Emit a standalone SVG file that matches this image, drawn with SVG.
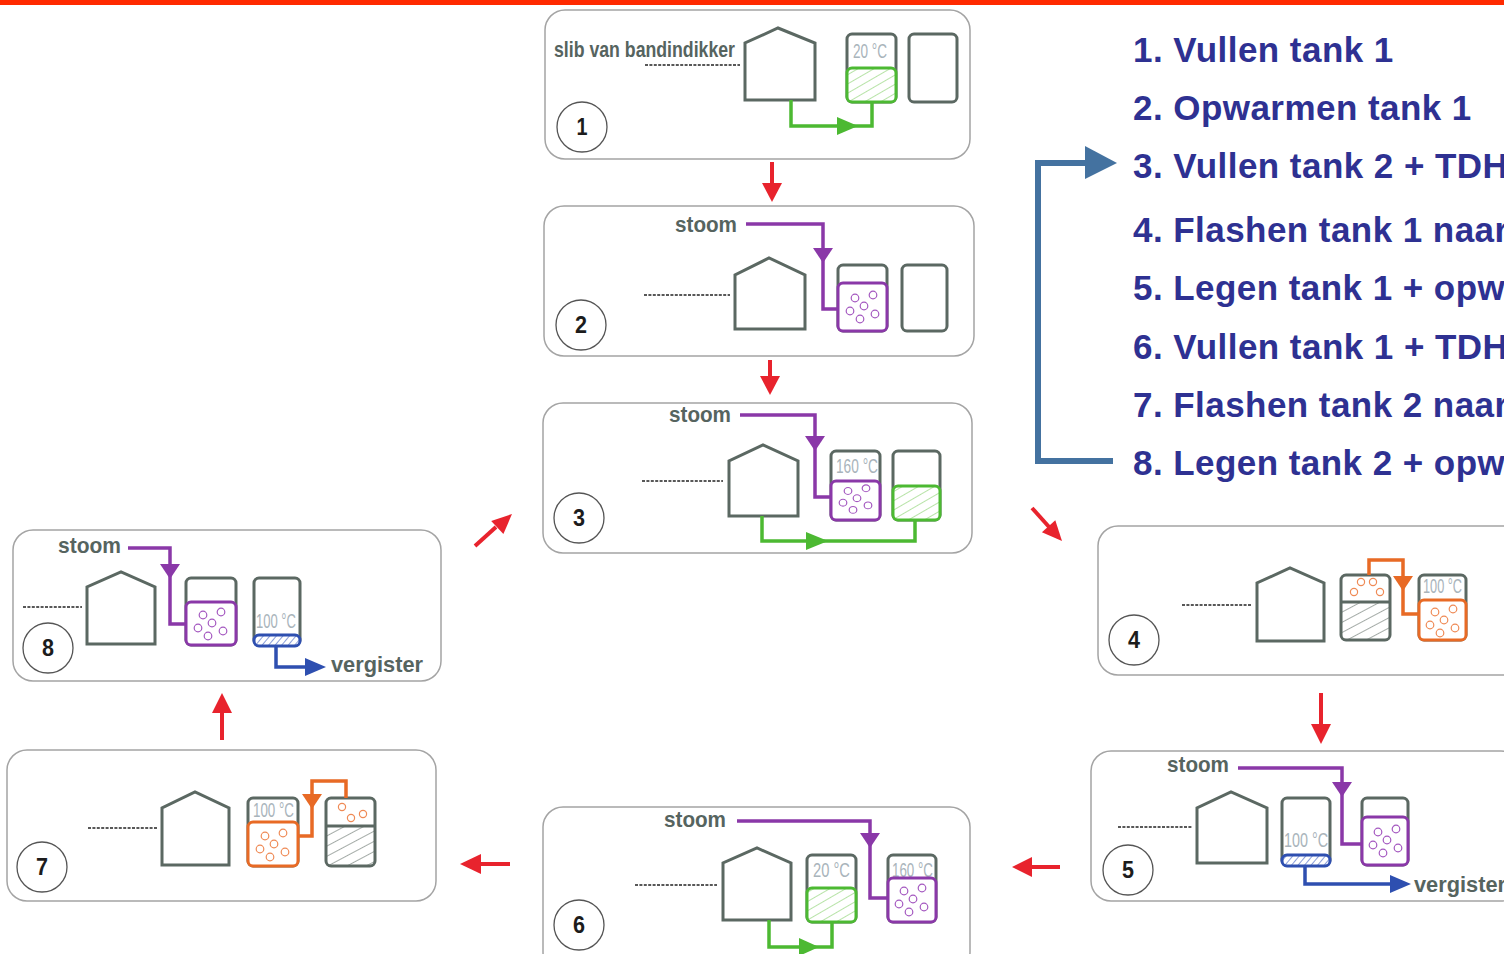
<svg xmlns="http://www.w3.org/2000/svg" xmlns:xlink="http://www.w3.org/1999/xlink" width="1504" height="954" viewBox="0 0 1504 954">
  <defs>
    <style>
      .panel { fill: #ffffff; stroke: #a4a4a4; stroke-width: 1.5; }
      .house { fill: none; stroke: #5b6862; stroke-width: 3; stroke-linejoin: miter; }
      .tank { fill: none; stroke: #5b6862; stroke-width: 3; }
      .dash { stroke: #222222; stroke-width: 1.6; stroke-dasharray: 3 1.4; fill: none; }
      .lbl { font-family: "Liberation Sans", Arial, sans-serif; font-weight: bold; font-size: 22px; fill: #56645f; }
      .temp { font-family: "Liberation Sans", Arial, sans-serif; font-size: 20px; fill: #a9b4bb; }
      .ring { fill: #ffffff; stroke: #555555; stroke-width: 1.3; }
      .num { font-family: "Liberation Sans", Arial, sans-serif; font-weight: bold; font-size: 24px; fill: #1c1c1c; text-anchor: middle; }
      .pipe { fill: none; stroke-width: 3.5; stroke-linejoin: miter; }
      .pur { stroke: #8a38a8; }
      .grn { stroke: #4cb932; }
      .org { stroke: #e86a25; }
      .blu { stroke: #2e4fb0; }
      .hpur { fill: #8a38a8; }
      .hgrn { fill: #4cb932; }
      .horg { fill: #e86a25; }
      .hblu { fill: #2e4fb0; }
      .zone { stroke-width: 3; }
      .step { font-family: "Liberation Sans", Arial, sans-serif; font-weight: bold; font-size: 35px; letter-spacing: 0.45px; fill: #2e3192; }
      .red { stroke: #e8232d; stroke-width: 4; fill: none; }
      .redh { fill: #e8232d; }
    </style>
    <pattern id="hatchG" width="8" height="8" patternUnits="userSpaceOnUse" patternTransform="rotate(60)">
      <rect width="8" height="8" fill="#ffffff"/>
      <line x1="0" y1="0" x2="0" y2="8" stroke="#7ccd5e" stroke-width="1.1"/>
    </pattern>
    <pattern id="hatchK" width="9" height="9" patternUnits="userSpaceOnUse" patternTransform="rotate(62)">
      <rect width="9" height="9" fill="#ffffff"/>
      <line x1="0" y1="0" x2="0" y2="9" stroke="#66726c" stroke-width="1.2"/>
    </pattern>
    <pattern id="hatchB" width="5" height="5" patternUnits="userSpaceOnUse" patternTransform="rotate(40)">
      <rect width="5" height="5" fill="#ffffff"/>
      <line x1="0" y1="0" x2="0" y2="5" stroke="#3c5cc0" stroke-width="1.2"/>
    </pattern>
    <!-- six loose bubbles in a 48x40 box; colour comes from the <use> -->
    <g id="bub" fill="none" stroke-width="1.2">
      <circle cx="16" cy="10" r="3.8"/>
      <circle cx="34" cy="7" r="3.8"/>
      <circle cx="25" cy="18" r="3.8"/>
      <circle cx="11" cy="23" r="3.8"/>
      <circle cx="36" cy="26" r="3.8"/>
      <circle cx="21" cy="31" r="3.8"/>
    </g>
  </defs>

  <rect width="1504" height="954" fill="#ffffff"/>
  <rect x="0" y="0" width="1504" height="5" fill="#ff2a00"/>

  <!-- Step 1: filling tank 1 -->
  <g id="step1">
    <rect class="panel" x="545" y="10" width="425" height="149" rx="20"/>
    <text class="lbl" x="554" y="57" textLength="181" lengthAdjust="spacingAndGlyphs">slib van bandindikker</text>
    <line class="dash" x1="645" y1="65" x2="740" y2="65"/>
    <polygon class="house" points="745,100 745,43 778,28 815,43 815,100"/>
    <rect class="tank" x="847" y="34" width="49" height="68" rx="5"/>
    <text class="temp" x="853" y="58" textLength="34" lengthAdjust="spacingAndGlyphs">20 °C</text>
    <rect class="zone grn" x="847" y="68" width="49" height="34" rx="5" fill="url(#hatchG)"/>
    <rect class="tank" x="909" y="34" width="48" height="68" rx="5"/>
    <path class="pipe grn" d="M791,100 V126 H872 V102"/>
    <polygon class="hgrn" points="837,117 858,126 837,135"/>
    <circle class="ring" cx="582" cy="127" r="25"/>
    <text class="num" x="582" y="135" textLength="11" lengthAdjust="spacingAndGlyphs">1</text>
  </g>

  <!-- Step 2: heating tank 1 -->
  <g id="step2">
    <rect class="panel" x="544" y="206" width="430" height="150" rx="20"/>
    <text class="lbl" x="675" y="232" textLength="62" lengthAdjust="spacingAndGlyphs">stoom</text>
    <line class="dash" x1="644" y1="295" x2="730" y2="295"/>
    <polygon class="house" points="735,329 735,275 769,258 805,275 805,329"/>
    <rect class="tank" x="838" y="265" width="49" height="66" rx="5"/>
    <rect class="zone pur" x="838" y="283" width="49" height="48" rx="5" fill="#ffffff"/>
    <use xlink:href="#bub" transform="translate(839,288)" stroke="#a458c0"/>
    <rect class="tank" x="902" y="265" width="45" height="66" rx="5"/>
    <path class="pipe pur" d="M746,224 H823 V309 H838"/>
    <polygon class="hpur" points="813,248 833,248 823,263"/>
    <circle class="ring" cx="581" cy="325" r="25"/>
    <text class="num" x="581" y="333" textLength="12" lengthAdjust="spacingAndGlyphs">2</text>
  </g>

  <!-- Step 3: filling tank 2 -->
  <g id="step3">
    <rect class="panel" x="543" y="403" width="429" height="150" rx="20"/>
    <text class="lbl" x="669" y="422" textLength="62" lengthAdjust="spacingAndGlyphs">stoom</text>
    <line class="dash" x1="642" y1="481" x2="723" y2="481"/>
    <polygon class="house" points="729,516 729,461 763,445 798,461 798,516"/>
    <rect class="tank" x="831" y="451" width="49" height="69" rx="5"/>
    <text class="temp" x="836" y="473" textLength="42" lengthAdjust="spacingAndGlyphs">160 °C</text>
    <rect class="zone pur" x="831" y="481" width="49" height="39" rx="5" fill="#ffffff"/>
    <use xlink:href="#bub" transform="translate(832,482) scale(1,0.9)" stroke="#a458c0"/>
    <rect class="tank" x="893" y="451" width="47" height="69" rx="5"/>
    <rect class="zone grn" x="893" y="486" width="47" height="34" rx="5" fill="url(#hatchG)"/>
    <path class="pipe pur" d="M740,415 H815 V497 H831"/>
    <polygon class="hpur" points="805,436 825,436 815,451"/>
    <path class="pipe grn" d="M762,516 V541 H915 V520"/>
    <polygon class="hgrn" points="806,532 828,541 806,550"/>
    <circle class="ring" cx="579" cy="518" r="25"/>
    <text class="num" x="579" y="526" textLength="12" lengthAdjust="spacingAndGlyphs">3</text>
  </g>

  <!-- Step 4: flashing tank 1 into tank 2 -->
  <g id="step4">
    <rect class="panel" x="1098" y="526" width="430" height="149" rx="20"/>
    <line class="dash" x1="1182" y1="605" x2="1252" y2="605"/>
    <polygon class="house" points="1257,641 1257,583 1290,568 1324,583 1324,641"/>
    <rect x="1341" y="602" width="49" height="38" fill="url(#hatchK)"/>
    <rect class="tank" x="1341" y="575" width="49" height="65" rx="5"/>
    <line x1="1341" y1="602" x2="1390" y2="602" stroke="#5b6862" stroke-width="3"/>
    <g fill="none" stroke="#ef8a55" stroke-width="1.2">
      <circle cx="1361" cy="582" r="3.6"/>
      <circle cx="1373" cy="582" r="3.6"/>
      <circle cx="1354" cy="592" r="3.6"/>
      <circle cx="1380" cy="592" r="3.6"/>
    </g>
    <rect class="tank" x="1419" y="575" width="47" height="65" rx="5"/>
    <text class="temp" x="1423" y="593" textLength="39" lengthAdjust="spacingAndGlyphs">100 °C</text>
    <rect class="zone org" x="1419" y="600" width="47" height="40" rx="5" fill="#ffffff"/>
    <use xlink:href="#bub" transform="translate(1419,602)" stroke="#ef8a55"/>
    <path class="pipe org" d="M1369,575 V560 H1403 V614 H1419"/>
    <polygon class="horg" points="1393,576 1413,576 1403,591"/>
    <circle class="ring" cx="1134" cy="640" r="25"/>
    <text class="num" x="1134" y="648" textLength="12" lengthAdjust="spacingAndGlyphs">4</text>
  </g>

  <!-- Step 5: emptying tank 1 to the digester, heating tank 2 -->
  <g id="step5">
    <rect class="panel" x="1091" y="751" width="430" height="150" rx="20"/>
    <text class="lbl" x="1167" y="772" textLength="62" lengthAdjust="spacingAndGlyphs">stoom</text>
    <line class="dash" x1="1118" y1="827" x2="1192" y2="827"/>
    <polygon class="house" points="1197,863 1197,808 1231,792 1267,808 1267,863"/>
    <rect class="tank" x="1282" y="798" width="48" height="67" rx="5"/>
    <text class="temp" x="1284" y="847" textLength="44" lengthAdjust="spacingAndGlyphs">100 °C</text>
    <rect class="zone blu" x="1282" y="855" width="48" height="11" rx="5" fill="url(#hatchB)"/>
    <rect class="tank" x="1362" y="798" width="46" height="67" rx="5"/>
    <rect class="zone pur" x="1362" y="817" width="46" height="48" rx="5" fill="#ffffff"/>
    <use xlink:href="#bub" transform="translate(1362,822)" stroke="#a458c0"/>
    <path class="pipe pur" d="M1238,768 H1342 V844 H1362"/>
    <polygon class="hpur" points="1332,782 1352,782 1342,797"/>
    <path class="pipe blu" d="M1305,866 V884 H1395"/>
    <polygon class="hblu" points="1390,875 1411,884 1390,893"/>
    <text class="lbl" x="1414" y="892" textLength="92" lengthAdjust="spacingAndGlyphs">vergister</text>
    <circle class="ring" cx="1128" cy="870" r="25"/>
    <text class="num" x="1128" y="878" textLength="12" lengthAdjust="spacingAndGlyphs">5</text>
  </g>

  <!-- Step 6: filling tank 1, heating tank 2 -->
  <g id="step6">
    <rect class="panel" x="543" y="807" width="427" height="165" rx="20"/>
    <text class="lbl" x="664" y="827" textLength="62" lengthAdjust="spacingAndGlyphs">stoom</text>
    <line class="dash" x1="635" y1="885" x2="717" y2="885"/>
    <polygon class="house" points="723,920 723,863 757,848 791,863 791,920"/>
    <rect class="tank" x="807" y="855" width="49" height="67" rx="5"/>
    <text class="temp" x="813" y="877" textLength="37" lengthAdjust="spacingAndGlyphs">20 °C</text>
    <rect class="zone grn" x="807" y="888" width="49" height="34" rx="5" fill="url(#hatchG)"/>
    <rect class="tank" x="888" y="855" width="48" height="67" rx="5"/>
    <text class="temp" x="892" y="877" textLength="41" lengthAdjust="spacingAndGlyphs">160 °C</text>
    <rect class="zone pur" x="888" y="878" width="48" height="44" rx="5" fill="#ffffff"/>
    <use xlink:href="#bub" transform="translate(888,881)" stroke="#a458c0"/>
    <path class="pipe pur" d="M737,821 H870 V898 H888"/>
    <polygon class="hpur" points="860,833 880,833 870,848"/>
    <path class="pipe grn" d="M769,920 V947 H832 V922"/>
    <polygon class="hgrn" points="799,938 819,947 799,956"/>
    <circle class="ring" cx="579" cy="925" r="25"/>
    <text class="num" x="579" y="933" textLength="12" lengthAdjust="spacingAndGlyphs">6</text>
  </g>

  <!-- Step 7: flashing tank 2 into tank 1 -->
  <g id="step7">
    <rect class="panel" x="7" y="750" width="429" height="151" rx="20"/>
    <line class="dash" x1="88" y1="828" x2="157" y2="828"/>
    <polygon class="house" points="162,865 162,808 195,792 229,808 229,865"/>
    <rect class="tank" x="248" y="798" width="50" height="68" rx="5"/>
    <text class="temp" x="253" y="817" textLength="41" lengthAdjust="spacingAndGlyphs">100 °C</text>
    <rect class="zone org" x="248" y="822" width="50" height="44" rx="5" fill="#ffffff"/>
    <use xlink:href="#bub" transform="translate(249,826)" stroke="#ef8a55"/>
    <rect x="326" y="826" width="49" height="40" fill="url(#hatchK)"/>
    <rect class="tank" x="326" y="798" width="49" height="68" rx="5"/>
    <line x1="326" y1="826" x2="375" y2="826" stroke="#5b6862" stroke-width="3"/>
    <g fill="none" stroke="#ef8a55" stroke-width="1.2">
      <circle cx="342" cy="807" r="3.6"/>
      <circle cx="351" cy="818" r="3.6"/>
      <circle cx="363" cy="814" r="3.6"/>
    </g>
    <path class="pipe org" d="M346,798 V781 H312 V836 H298"/>
    <polygon class="horg" points="302,794 322,794 312,809"/>
    <circle class="ring" cx="42" cy="867" r="25"/>
    <text class="num" x="42" y="875" textLength="12" lengthAdjust="spacingAndGlyphs">7</text>
  </g>

  <!-- Step 8: emptying tank 2 to the digester, heating tank 1 -->
  <g id="step8">
    <rect class="panel" x="13" y="530" width="428" height="151" rx="20"/>
    <text class="lbl" x="58" y="553" textLength="63" lengthAdjust="spacingAndGlyphs">stoom</text>
    <line class="dash" x1="23" y1="607" x2="82" y2="607"/>
    <polygon class="house" points="87,644 87,587 121,572 155,587 155,644"/>
    <rect class="tank" x="186" y="578" width="50" height="67" rx="5"/>
    <rect class="zone pur" x="186" y="602" width="50" height="43" rx="5" fill="#ffffff"/>
    <use xlink:href="#bub" transform="translate(187,605)" stroke="#a458c0"/>
    <rect class="tank" x="254" y="578" width="46" height="67" rx="5"/>
    <text class="temp" x="256" y="628" textLength="40" lengthAdjust="spacingAndGlyphs">100 °C</text>
    <rect class="zone blu" x="254" y="635" width="46" height="11" rx="5" fill="url(#hatchB)"/>
    <path class="pipe pur" d="M128,548 H170 V624 H186"/>
    <polygon class="hpur" points="160,564 180,564 170,579"/>
    <path class="pipe blu" d="M276,646 V667 H310"/>
    <polygon class="hblu" points="305,658 326,667 305,676"/>
    <text class="lbl" x="331" y="672" textLength="92" lengthAdjust="spacingAndGlyphs">vergister</text>
    <circle class="ring" cx="48" cy="648" r="25"/>
    <text class="num" x="48" y="656" textLength="12" lengthAdjust="spacingAndGlyphs">8</text>
  </g>

  <!-- Step list -->
  <g id="steplist">
    <text class="step" x="1133" y="62">1. Vullen tank 1</text>
    <text class="step" x="1133" y="120">2. Opwarmen tank 1</text>
    <text class="step" x="1133" y="178">3. Vullen tank 2 + TDH</text>
    <text class="step" x="1133" y="242">4. Flashen tank 1 naar</text>
    <text class="step" x="1133" y="300">5. Legen tank 1 + opw</text>
    <text class="step" x="1133" y="359">6. Vullen tank 1 + TDH</text>
    <text class="step" x="1133" y="417">7. Flashen tank 2 naar</text>
    <text class="step" x="1133" y="475">8. Legen tank 2 + opw</text>
  </g>

  <!-- Cycle arrows between the steps, and the loop back in the list -->
  <g id="connectors">
    <line class="red" x1="772" y1="162" x2="772" y2="186"/>
    <polygon class="redh" points="762,183 782,183 772,202"/>
    <line class="red" x1="770" y1="360" x2="770" y2="379"/>
    <polygon class="redh" points="760,376 780,376 770,395"/>
    <line class="red" x1="1032" y1="508" x2="1050" y2="528"/>
    <polygon class="redh" points="1041.9,532.2 1055.3,520.2 1062,541"/>
    <line class="red" x1="1321" y1="693" x2="1321" y2="727"/>
    <polygon class="redh" points="1311,724 1331,724 1321,744"/>
    <line class="red" x1="1060" y1="867" x2="1029" y2="867"/>
    <polygon class="redh" points="1032,857 1032,877 1012,867"/>
    <line class="red" x1="510" y1="864" x2="479" y2="864"/>
    <polygon class="redh" points="481,854 481,874 460,864"/>
    <line class="red" x1="222" y1="740" x2="222" y2="710"/>
    <polygon class="redh" points="212,713 232,713 222,693"/>
    <line class="red" x1="475" y1="546" x2="496" y2="527"/>
    <polygon class="redh" points="503.4,534.1 491.2,520.9 512,514"/>
    <path d="M1113,461 H1038 V163 H1088" fill="none" stroke="#4472a0" stroke-width="6"/>
    <polygon points="1085,146 1117,163 1085,179" fill="#4472a0"/>
  </g>
</svg>
